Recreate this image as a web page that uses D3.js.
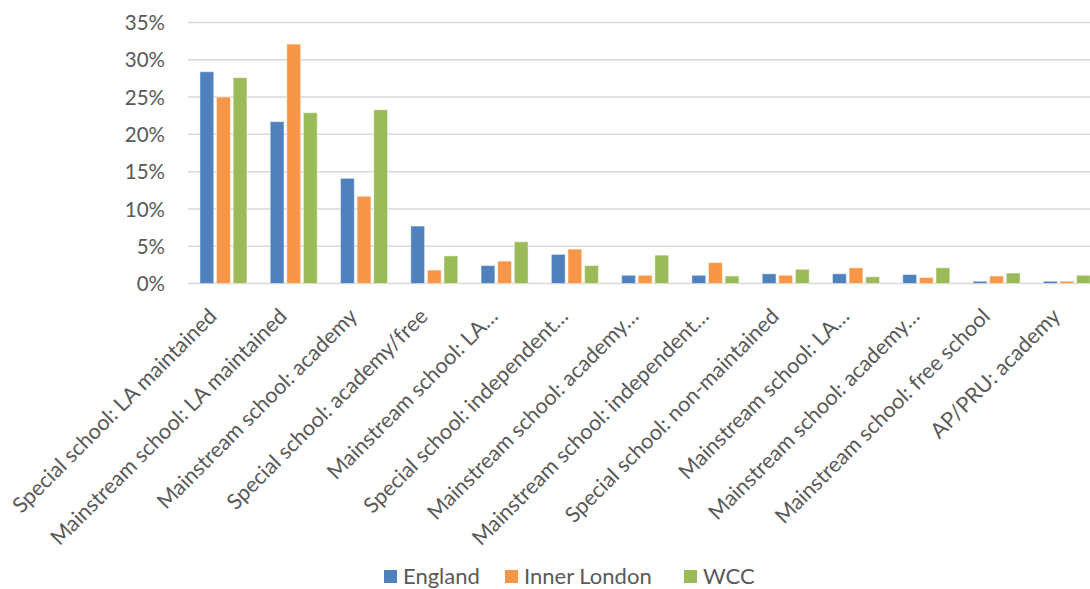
<!DOCTYPE html>
<html><head><meta charset="utf-8">
<script src="https://cdn.jsdelivr.net/npm/d3@7"></script>
<style>body{margin:0;background:#fff}svg{display:block}</style>
</head><body><svg id="c" width="1090" height="589"></svg>
<script>
const categories = ["Special school: LA maintained","Mainstream school: LA maintained","Mainstream school: academy","Special school: academy/free","Mainstream school: LA…","Special school: independent…","Mainstream school: academy…","Mainstream school: independent…","Special school: non-maintained","Mainstream school: LA…","Mainstream school: academy…","Mainstream school: free school","AP/PRU: academy"];
const seriesNames = ["England","Inner London","WCC"];
const england = [28.4,21.7,14.1,7.7,2.4,3.9,1.1,1.1,1.3,1.3,1.2,0.3,0.3];
const innerLondon = [25.0,32.1,11.7,1.8,3.0,4.6,1.1,2.8,1.1,2.1,0.8,1.0,0.3];
const wcc = [27.6,22.9,23.3,3.7,5.6,2.4,3.8,1.0,1.9,0.9,2.1,1.4,1.1];
const yTicks = [0,5,10,15,20,25,30,35];
const colors = ["#4f81bd","#f79646","#9bbb59"];
const values = [england, innerLondon, wcc];

const svg = d3.select("#c");
const font = "Lato, 'Open Sans', sans-serif";
const x0 = d3.scaleBand().domain(d3.range(categories.length)).range([188.3, 1102]).paddingInner(0).paddingOuter(0);
const y = d3.scaleLinear().domain([0,35]).range([283.5, 22.5]);

// gridlines
svg.append("g").selectAll("line").data(yTicks).join("line")
  .attr("x1",188).attr("x2",1090).attr("y1",d=>y(d)).attr("y2",d=>y(d))
  .attr("stroke","#d9d9d9").attr("stroke-width",1.5);

// y labels
const yAxis = d3.axisLeft(y).tickValues(yTicks).tickFormat(d=>d+"%").tickSize(0).tickPadding(0);
const ya = svg.append("g").attr("transform","translate(165,0)").call(yAxis);
ya.select(".domain").remove();
ya.selectAll("text").attr("font-family",font).attr("font-size",20.5).attr("fill","#595959").attr("dy","0.35em");

// bars
const bw = x0.bandwidth();
const x1 = d3.scaleBand().domain(d3.range(3)).range([bw/2-23.5, bw/2+23.5]).paddingInner(0.17);
const g = svg.append("g");
values.forEach((arr, s) => {
  g.append("g").selectAll("rect").data(arr).join("rect")
    .attr("x",(d,i)=>x0(i)+x1(s))
    .attr("width",x1.bandwidth())
    .attr("y",d=>y(d))
    .attr("height",d=>y(0)-y(d))
    .attr("fill",colors[s])
    .attr("stroke","#ffffff").attr("stroke-opacity",0.45).attr("stroke-width",1);
});

// x labels
svg.append("g").selectAll("text").data(categories).join("text")
  .attr("transform",(d,i)=>`translate(${x0(i)+bw/2-16},${307}) rotate(-45)`)
  .attr("text-anchor","end").attr("dy","0.7em")
  .attr("font-family",font).attr("font-size",21.5).attr("fill","#595959")
  .text(d=>d);

// legend
const legX = [384,505,684];
const leg = svg.append("g").selectAll("g").data(seriesNames).join("g")
  .attr("transform",(d,i)=>`translate(${legX[i]},570)`);
leg.append("rect").attr("width",13).attr("height",13).attr("fill",(d,i)=>colors[i]);
leg.append("text").attr("x",19).attr("y",14).attr("font-family",font).attr("font-size",22).attr("fill","#595959").text(d=>d);
</script></body></html>
